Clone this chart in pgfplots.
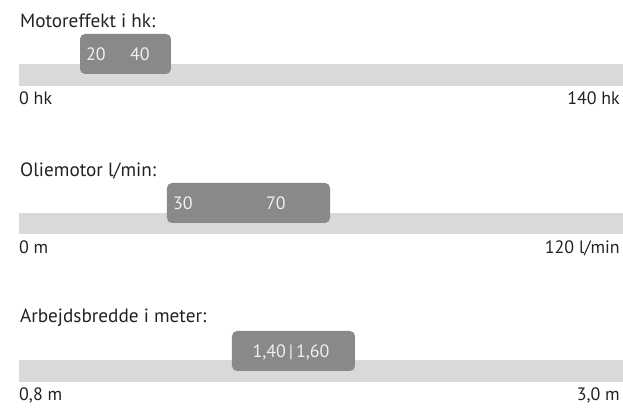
\documentclass[border=0pt]{standalone}
\usepackage{fontspec}
\setmainfont{PT Sans}
\usepackage{pgfplots}
\pgfplotsset{compat=1.18}
\definecolor{track}{HTML}{D9D9D9}
\definecolor{boxc}{HTML}{898989}
\definecolor{boxtxt}{HTML}{F0F0F0}
\definecolor{txt}{HTML}{222222}
\pgfplotsset{slider/.style={at={(19bp,0bp)}, anchor=south west, scale only axis,
  width=604bp, height=409bp, ymin=-409, ymax=0, hide axis, clip=false}}
\tikzset{lab/.style={inner sep=0pt, text=txt, font=\fontsize{18}{20}\selectfont},
  ttl/.style={inner sep=0pt, text=txt, font=\fontsize{19.3}{21}\selectfont},
  btxt/.style={inner sep=0pt, text=boxtxt, font=\fontsize{18}{20}\selectfont}}
\begin{document}
\begin{tikzpicture}
\useasboundingbox (0,0) rectangle (623bp,409bp);
% Slider 1: Motoreffekt
\begin{axis}[slider, xmin=0, xmax=140]
\addplot[fill=track, draw=none] coordinates {(0,-64) (140,-64) (140,-86) (0,-86)} -- cycle;
\addplot[fill=boxc, draw=none, rounded corners=5bp] coordinates {(25,-34) (35.23,-34) (35.23,-74) (14.14,-74) (14.14,-34)} -- cycle;
\node[btxt, anchor=base west] at (axis cs:15.53,-61) {20};
\node[btxt, anchor=base west] at (axis cs:25.73,-61) {40};
\node[ttl, anchor=base west] at (axis cs:0.2,-28) {Motoreffekt i hk:};
\node[lab, anchor=base west] at (axis cs:0,-105) {0 hk};
\node[lab, anchor=base east] at (axis cs:139.3,-105) {140 hk};
\end{axis}
% Slider 2: Oliemotor
\begin{axis}[slider, xmin=0, xmax=120]
\addplot[fill=track, draw=none] coordinates {(0,-213) (120,-213) (120,-234) (0,-234)} -- cycle;
\addplot[fill=boxc, draw=none, rounded corners=5bp] coordinates {(45,-183) (61.79,-183) (61.79,-223) (29.40,-223) (29.40,-183)} -- cycle;
\node[btxt, anchor=base west] at (axis cs:30.6,-210) {30};
\node[btxt, anchor=base west] at (axis cs:49.07,-210) {70};
\node[ttl, anchor=base west] at (axis cs:0.2,-176.7) {Oliemotor l/min:};
\node[lab, anchor=base west] at (axis cs:0,-254) {0 m};
\node[lab, anchor=base east] at (axis cs:119.4,-254) {120 l/min};
\end{axis}
% Slider 3: Arbejdsbredde
\begin{axis}[slider, xmin=0.8, xmax=3.0]
\addplot[fill=track, draw=none] coordinates {(0.8,-360) (3.0,-360) (3.0,-382) (0.8,-382)} -- cycle;
\addplot[fill=boxc, draw=none, rounded corners=5bp] coordinates {(1.8,-331) (2.0238,-331) (2.0238,-371) (1.5758,-371) (1.5758,-331)} -- cycle;
\node[btxt, anchor=base] at (axis cs:1.7907,-358) {1,40\,|\,1,60};
\node[ttl, anchor=base west] at (axis cs:0.803,-322.3) {Arbejdsbredde i meter:};
\node[lab, anchor=base west] at (axis cs:0.8,-400.7) {0,8 m};
\node[lab, anchor=base east] at (axis cs:2.989,-400.7) {3,0 m};
\end{axis}
\end{tikzpicture}
\end{document}
